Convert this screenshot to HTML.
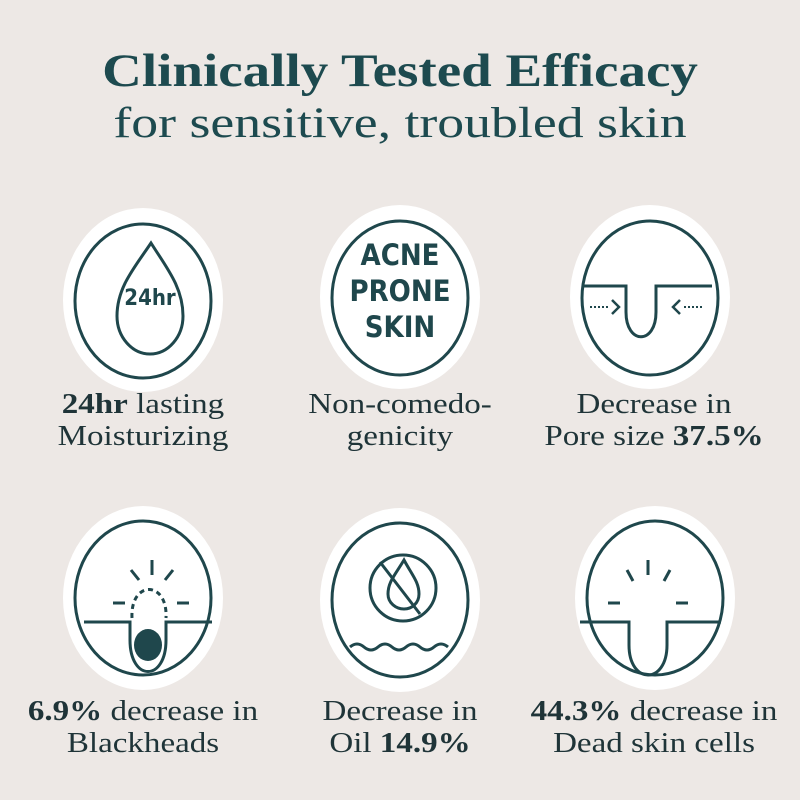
<!DOCTYPE html>
<html><head><meta charset="utf-8"><style>
body{margin:0;width:800px;height:800px;background:#ede8e5;overflow:hidden;font-family:"Liberation Serif",serif;color:#1f474c}
.t{position:absolute;left:0;width:800px;text-align:center;white-space:nowrap}
.lab{position:absolute;width:280px;text-align:center;font-size:28px;line-height:32px;color:#1f3438;transform:scaleX(1.18);white-space:nowrap}
</style></head><body>
<div class="t" style="top:44px;font-size:47px;font-weight:bold;color:#1d4a4f;transform:scaleX(1.17)">Clinically Tested Efficacy</div>
<div class="t" style="top:99px;font-size:43px;color:#1d4a4f;transform:scaleX(1.25)">for sensitive, troubled skin</div>
<svg width="800" height="800" style="position:absolute;left:0;top:0" fill="none" stroke="#1f474c" stroke-width="3">
<g fill="#fff" stroke="none">
<ellipse cx="143" cy="300" rx="80" ry="92"/><ellipse cx="400" cy="297" rx="80" ry="92"/><ellipse cx="650" cy="297" rx="80" ry="92"/>
<ellipse cx="143" cy="598" rx="80" ry="92"/><ellipse cx="400" cy="600" rx="80" ry="92"/><ellipse cx="655" cy="598" rx="80" ry="92"/>
</g>
<ellipse cx="143" cy="301" rx="68" ry="77"/><ellipse cx="400" cy="298" rx="68" ry="77"/><ellipse cx="650" cy="298" rx="68" ry="77"/>
<ellipse cx="143" cy="598" rx="68" ry="77"/><ellipse cx="400" cy="600" rx="68" ry="77"/><ellipse cx="655" cy="598" rx="68" ry="77"/>
<path d="M151 243 C135 267 117 287 117 316 C117 337 132 354 150 354 C168 354 183 337 183 316 C183 287 166 267 151 243Z"/>
<path d="M584 286 H626 V312 C626 345 656 345 656 312 V286 H712"/>
<path d="M590 307 H610 M702 307 H682" stroke-dasharray="2 2" stroke-width="2"/>
<path d="M612 300 L619 307 L612 314 M680 300 L673 307 L680 314" stroke-width="2.5"/>
<path d="M84 622 H130 V640 C130 682 166 682 166 640 V622 H212"/>
<path d="M132 618 C130 580 168 580 166 618" stroke-dasharray="5 4"/>
<ellipse cx="148" cy="645" rx="14" ry="16" fill="#1f474c" stroke="none"/>
<path d="M152 560 V575 M131 570 L139 580 M173 570 L165 580 M113 603 H125 M177 603 H189"/>
<circle cx="403" cy="588" r="33"/>
<path d="M404 560 C395 575 388 582 388 594 C388 603 396 609 404 609 C412 609 419 603 419 594 C419 582 412 575 404 560Z"/>
<path d="M380 562 L420 614"/>
<path d="M350 647 q7-6 14 0 t14 0 t14 0 t14 0 t14 0 t14 0 t14 0"/>
<path d="M580 622 H629 V645 C629 685 667 685 667 645 V622 H721"/>
<path d="M648 560 V575 M627 570 L633 581 M670 570 L664 581 M608 603 H620 M676 603 H688"/>
</svg>
<div class="t" style="top:286px;left:120px;width:60px;font-family:'DejaVu Sans Condensed','DejaVu Sans',sans-serif;font-weight:bold;font-size:22px;color:#1f474c;text-align:center">24hr</div>
<div style="position:absolute;left:330px;top:237px;width:140px;text-align:center;font-family:'DejaVu Sans Condensed','DejaVu Sans',sans-serif;font-weight:bold;font-size:29px;line-height:36px;color:#1f474c">ACNE<br>PRONE<br>SKIN</div>
<div class="lab" style="left:3px;top:389px"><b>24hr</b> lasting<br>Moisturizing</div>
<div class="lab" style="left:260px;top:389px">Non-comedo-<br>genicity</div>
<div class="lab" style="left:514px;top:389px">Decrease in<br>Pore size <b>37.5%</b></div>
<div class="lab" style="left:3px;top:696px"><b>6.9%</b> decrease in<br>Blackheads</div>
<div class="lab" style="left:260px;top:696px">Decrease in<br>Oil <b>14.9%</b></div>
<div class="lab" style="left:514px;top:696px"><b>44.3%</b> decrease in<br>Dead skin cells</div>
</body></html>
